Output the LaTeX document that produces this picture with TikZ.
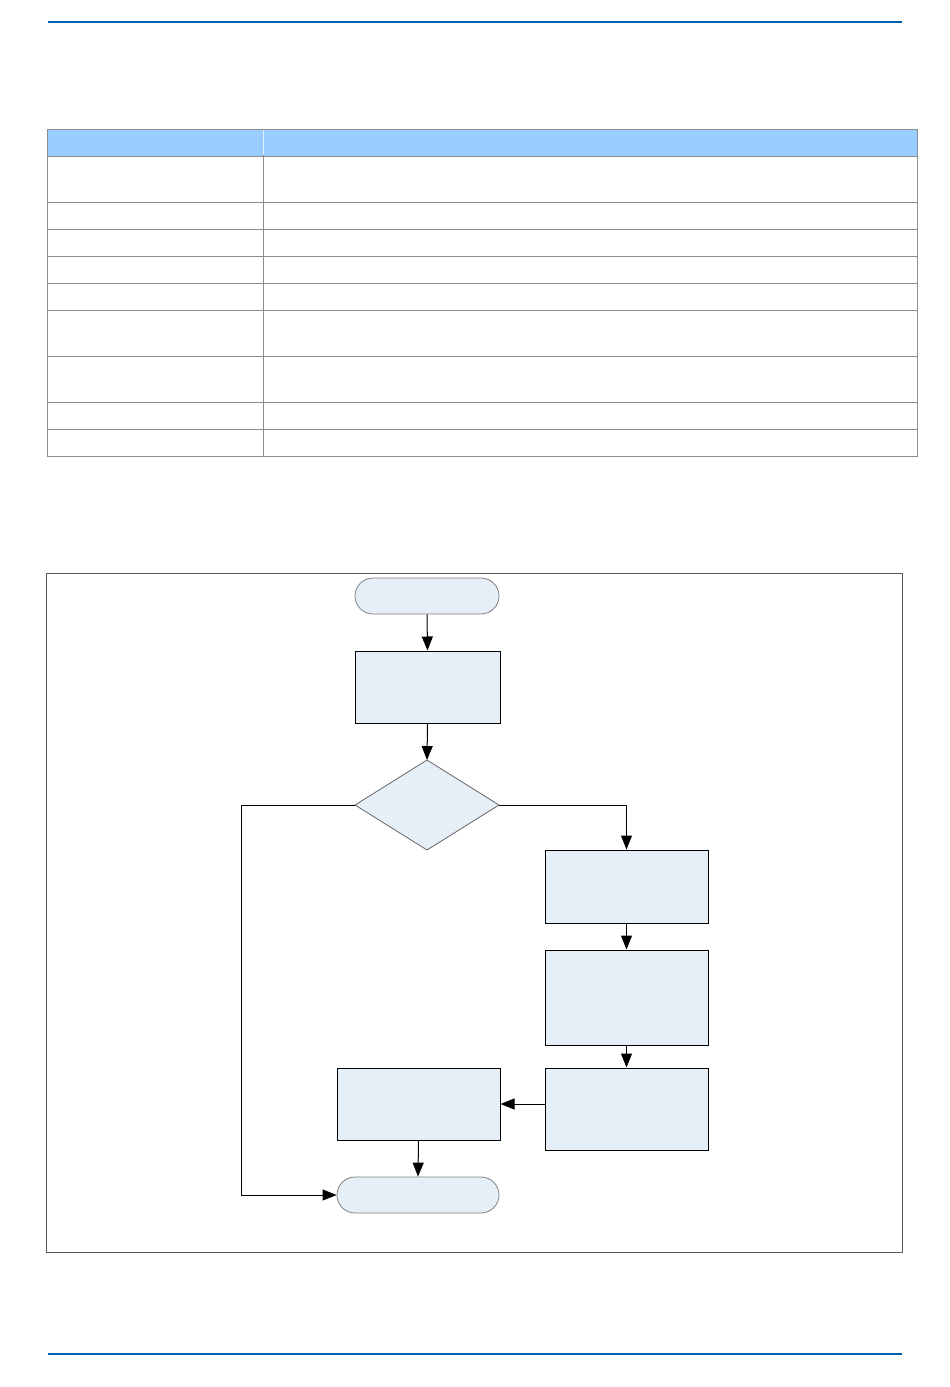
\documentclass[tikz,border=0pt]{standalone}
\usetikzlibrary{arrows.meta,shapes.geometric}
\definecolor{hdrblue}{HTML}{0060B4}
\definecolor{thead}{HTML}{99CCFF}
\definecolor{boxfill}{HTML}{E6EEF8}
\definecolor{gridgrey}{HTML}{8C8C8C}
\begin{document}
\begin{tikzpicture}[x=1pt,y=-1pt,
  box/.style={draw=black,fill=boxfill,line width=1pt,inner sep=0pt},
  term/.style={draw=gray,fill=boxfill,line width=0.8pt,rounded corners=18pt,inner sep=0pt},
  dia/.style={draw=gray!80!black,fill=boxfill,line width=0.8pt},
  conn/.style={line width=1pt,-{Triangle[length=14pt,width=11pt]}}]
\useasboundingbox (0,0) rectangle (950,1387);
% header/footer rules
\draw[hdrblue,line width=2.5pt] (48,22) -- (902,22);
\draw[hdrblue,line width=2.5pt] (48,1354) -- (902,1354);
% table
\fill[thead] (47,129) rectangle (917,156);
\draw[gridgrey,line width=0.8pt] (47,129) rectangle (917,456);
\foreach \yy in {156,202,229,256,283,310,356,402,429} \draw[gridgrey,line width=0.8pt] (47,\yy) -- (917,\yy);
\draw[gridgrey,line width=0.8pt] (263,129) -- (263,456);
\draw[white!70!thead,line width=0.6pt] (263,130) -- (263,155);
% frame
\draw[gray!70!black,line width=1pt] (46,573) rectangle (902,1252);
% nodes
\node[term,minimum width=144pt,minimum height=36pt] (start) at (427,596) {};
\node[box,minimum width=145pt,minimum height=72pt] (b1) at (427.5,687) {};
\coordinate (dt) at (427,760); \coordinate (dr) at (499,805);
\coordinate (db) at (427,850); \coordinate (dl) at (355,805);
\draw[dia] (dt) -- (dr) -- (db) -- (dl) -- cycle;
\node[box,minimum width=163pt,minimum height=73pt] (b2) at (626.5,886.5) {};
\node[box,minimum width=163pt,minimum height=95pt] (b3) at (626.5,997.5) {};
\node[box,minimum width=163pt,minimum height=82pt] (b4) at (626.5,1109) {};
\node[box,minimum width=163pt,minimum height=72pt] (b5) at (418.5,1104) {};
\node[term,minimum width=162pt,minimum height=36pt] (end) at (418,1195) {};
% connectors
\draw[conn] (start.south) -- (b1.north);
\draw[conn] (b1.south) -- (dt);
\draw[conn] (dr) -| (b2.north);
\draw[conn] (b2.south) -- (b3.north);
\draw[conn] (b3.south) -- (b4.north);
\draw[conn] (b4.west |- b5.east) -- (b5.east);
\draw[conn] (b5.south) -- (end.north);
\coordinate (lc) at (241,805);
\draw[conn] (dl) -- (lc) |- (end.west);
\end{tikzpicture}
\end{document}
